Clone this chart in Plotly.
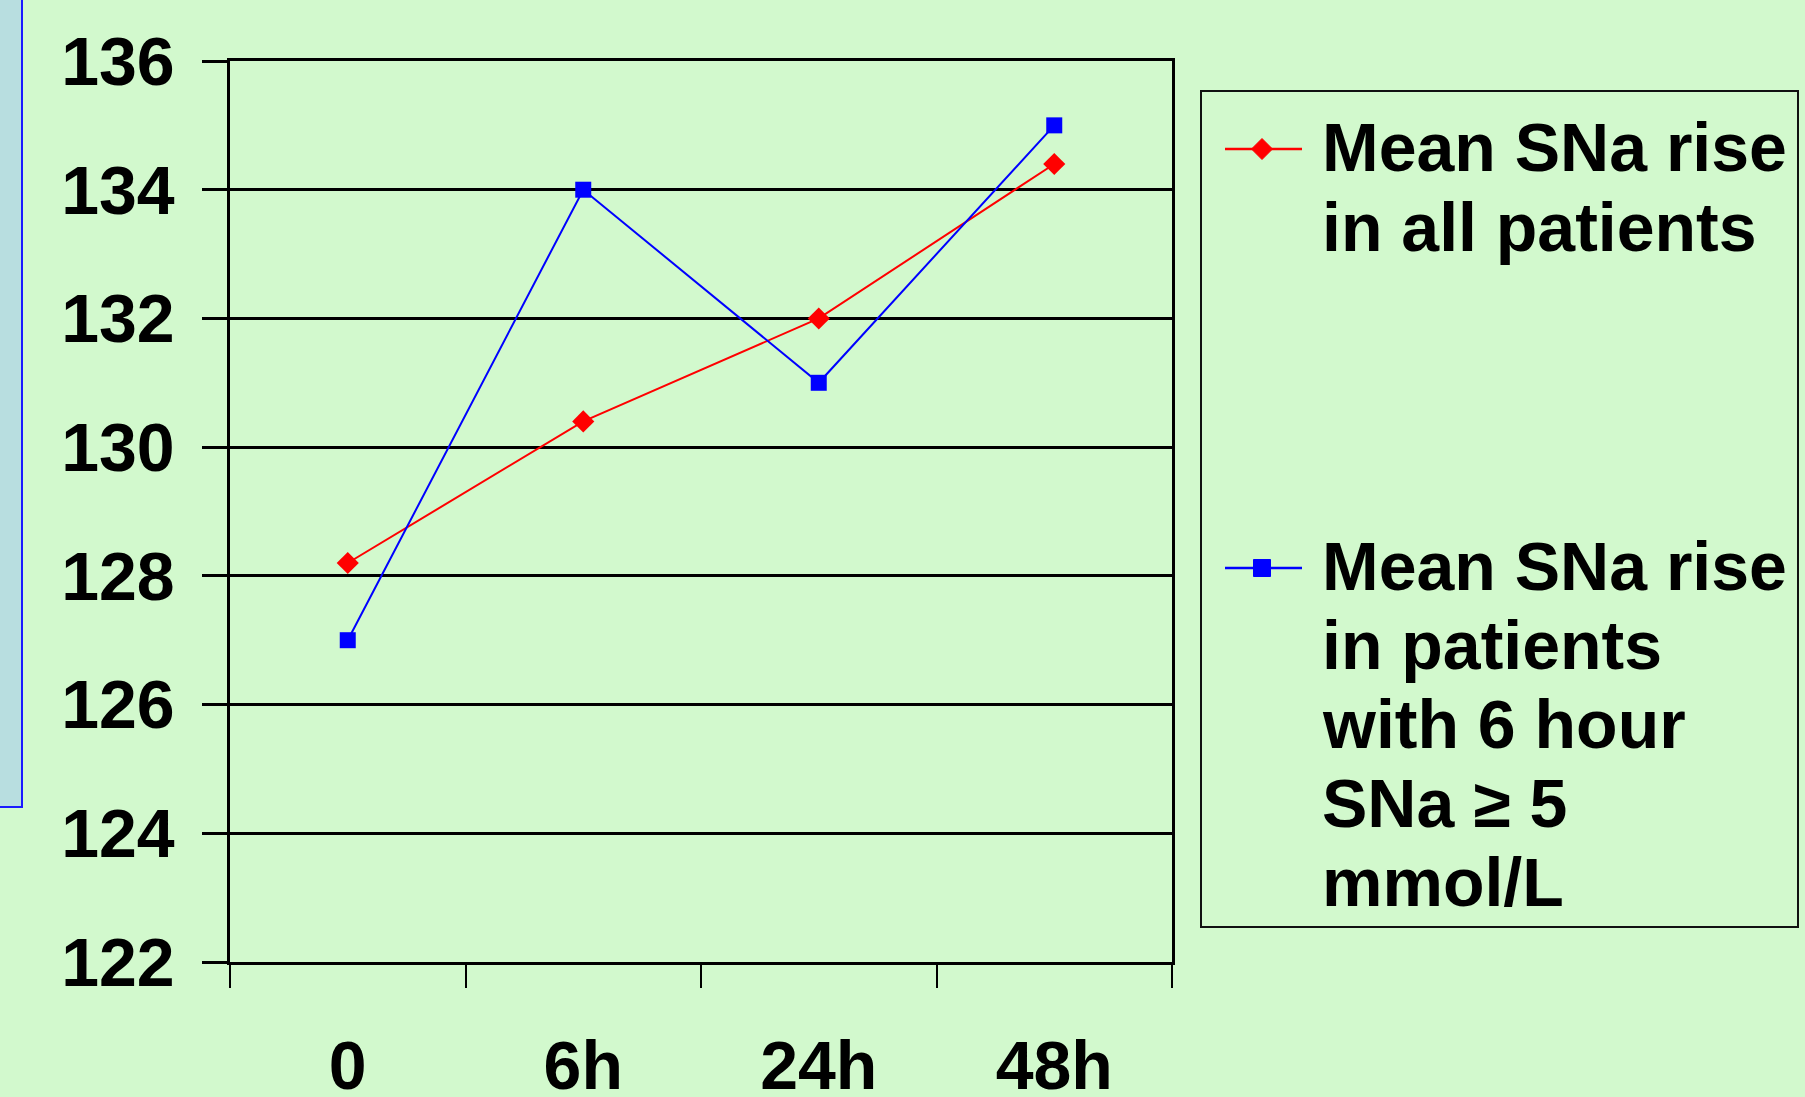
import plotly.graph_objects as go

# Serum sodium (mmol/L) at each time point
time_points = ["0", "6h", "24h", "48h"]
sna_all_patients = [128.2, 130.4, 132.0, 134.4]
sna_rapid_risers = [127.0, 134.0, 131.0, 135.0]
y_tick_values = [122, 124, 126, 128, 130, 132, 134, 136]

legend_all_lines = ["Mean SNa rise", "in all patients"]
legend_rapid_lines = ["Mean SNa rise", "in patients", "with 6 hour", "SNa \u2265 5", "mmol/L"]

W, H = 1805, 1097
PL, PR, PT, PB = 230, 1172, 61, 962  # plot area in pixels

BG = "#D2F9CD"
FONT = "Arial, Liberation Sans, sans-serif"


def fx(px):
    return (px - PL) / (PR - PL)


def fy(py):
    return (PB - py) / (PB - PT)


fig = go.Figure()
fig.add_trace(go.Scatter(
    x=time_points, y=sna_all_patients, mode="lines+markers",
    name="Mean SNa rise in all patients",
    line=dict(color="#FF0000", width=2),
    marker=dict(symbol="diamond", size=17, color="#FF0000"),
))
fig.add_trace(go.Scatter(
    x=time_points, y=sna_rapid_risers, mode="lines+markers",
    name="Mean SNa rise in patients with 6 hour SNa \u2265 5 mmol/L",
    line=dict(color="#0000FF", width=2),
    marker=dict(symbol="square", size=16, color="#0000FF"),
))

shapes = []
# side panel at the left edge
shapes.append(dict(type="rect", xref="paper", yref="paper",
                   x0=fx(-10), x1=fx(22), y0=fy(807), y1=fy(-10),
                   fillcolor="#B8DEE0", line=dict(color="#1A1AFF", width=2),
                   layer="below"))
# tick marks under both ends of the category axis
for edge in (PL, PR):
    shapes.append(dict(type="line", xref="paper", yref="paper",
                       x0=fx(edge), x1=fx(edge), y0=fy(PB), y1=fy(PB + 23),
                       line=dict(color="black", width=2)))
# legend frame
shapes.append(dict(type="rect", xref="paper", yref="paper",
                   x0=fx(1201), x1=fx(1798), y0=fy(927), y1=fy(91),
                   line=dict(color="#111111", width=2), fillcolor="rgba(0,0,0,0)"))

annotations = []


def legend_entry(color, symbol, sym_y, lines, first_center, spacing):
    shapes.append(dict(type="line", xref="paper", yref="paper",
                       x0=fx(1225), x1=fx(1302), y0=fy(sym_y), y1=fy(sym_y),
                       line=dict(color=color, width=2.5)))
    cx = 1262
    if symbol == "diamond":
        r = 10.5
        path = (f"M {fx(cx - r)} {fy(sym_y)} L {fx(cx)} {fy(sym_y - r)} "
                f"L {fx(cx + r)} {fy(sym_y)} L {fx(cx)} {fy(sym_y + r)} Z")
        shapes.append(dict(type="path", xref="paper", yref="paper", path=path,
                           fillcolor=color, line=dict(color=color, width=1)))
    else:
        r = 8.5
        shapes.append(dict(type="rect", xref="paper", yref="paper",
                           x0=fx(cx - r), x1=fx(cx + r), y0=fy(sym_y + r), y1=fy(sym_y - r),
                           fillcolor=color, line=dict(color=color, width=1)))
    for i, txt in enumerate(lines):
        annotations.append(dict(
            text=txt, xref="paper", yref="paper",
            x=fx(1320), y=fy(first_center + i * spacing),
            xanchor="left", yanchor="middle", showarrow=False,
            font=dict(family=FONT, size=68, color="black", weight="bold"),
        ))


legend_entry("#FF0000", "diamond", 149, legend_all_lines, 147, 80)
legend_entry("#0000FF", "square", 568, legend_rapid_lines, 566, 79)

fig.update_layout(
    width=W, height=H,
    margin=dict(l=PL, r=W - PR, t=PT, b=H - PB, pad=0, autoexpand=False),
    paper_bgcolor=BG, plot_bgcolor=BG,
    showlegend=False,
    shapes=shapes, annotations=annotations,
    font=dict(family=FONT, color="black"),
)
fig.update_xaxes(
    type="category", categoryorder="array", categoryarray=time_points,
    range=[-0.5, 3.5], automargin=False,
    showgrid=False, showline=True, linecolor="black", linewidth=2.5, mirror=True,
    ticks="outside", tickson="boundaries", ticklen=23, tickwidth=2, tickcolor="black",
    tickfont=dict(family=FONT, size=68, color="black", weight="bold"),
    ticklabelstandoff=43,
)
fig.update_yaxes(
    range=[122, 136], tickvals=y_tick_values, automargin=False,
    showgrid=True, gridcolor="black", gridwidth=2.5,
    showline=True, linecolor="black", linewidth=2.5, mirror=True,
    ticks="outside", ticklen=25, tickwidth=2.5, tickcolor="black",
    tickfont=dict(family=FONT, size=68, color="black", weight="bold"),
    ticklabelstandoff=14, zeroline=False,
)

fig.write_html("out.html")
